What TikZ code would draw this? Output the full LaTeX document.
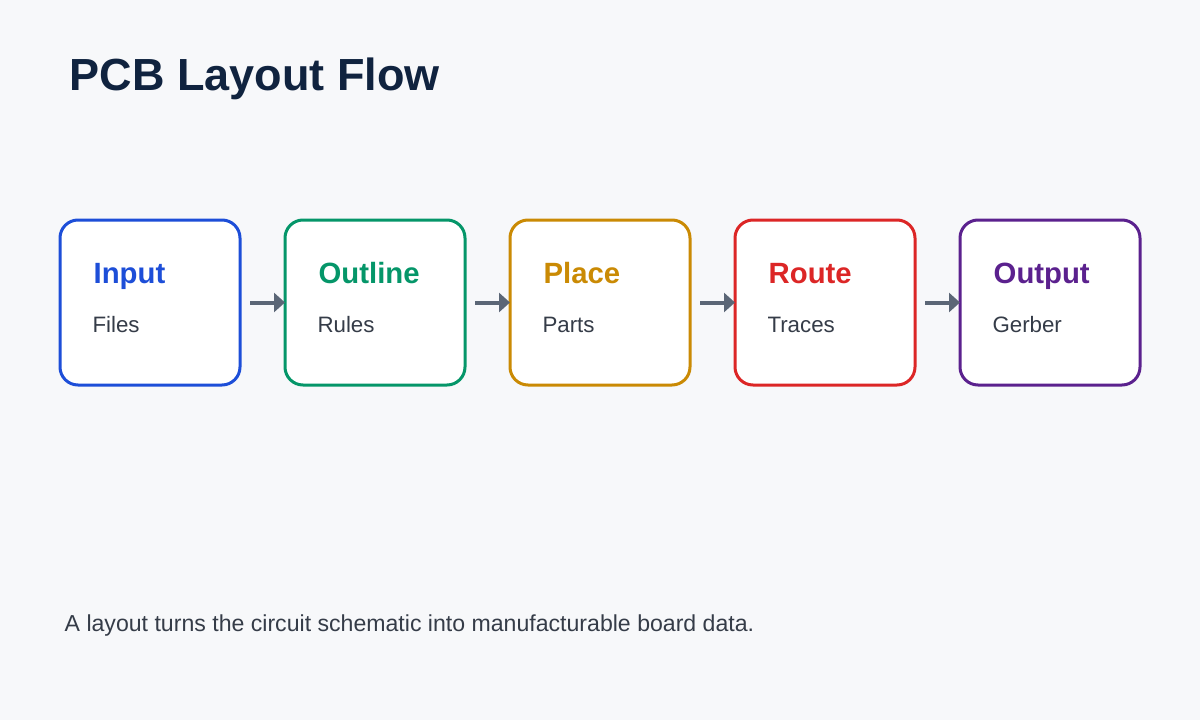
\documentclass[tikz,border=0pt]{standalone}
\usepackage{fontspec}
\setmainfont{Liberation Sans}
\usetikzlibrary{arrows.meta}
\definecolor{bgc}{HTML}{F7F8FA}
\definecolor{titlec}{HTML}{10233F}
\definecolor{textc}{HTML}{353C48}
\definecolor{arrowc}{HTML}{5B6676}
\definecolor{cin}{HTML}{1D4ED8}
\definecolor{cout}{HTML}{059669}
\definecolor{cplace}{HTML}{CA8A04}
\definecolor{croute}{HTML}{DC2626}
\definecolor{cgerb}{HTML}{5B218E}
\tikzset{
  stepbox/.style={draw, fill=white, line width=3pt, rounded corners=18pt,
    minimum width=180pt, minimum height=165pt, inner sep=0pt, outer sep=0pt},
  boxtitle/.style={anchor=base west, inner sep=0pt, font=\fontsize{29.3}{34}\selectfont\bfseries},
  boxsub/.style={anchor=base west, inner sep=0pt, text=textc, font=\fontsize{22.3}{26}\selectfont},
  flowarrow/.style={draw=arrowc, line width=4pt, -{Triangle[length=11pt,width=19pt]}},
}
\begin{document}
\begin{tikzpicture}[x=1pt,y=-1pt]
\fill[bgc] (0,0) rectangle (1200,720);
\useasboundingbox (0,0) rectangle (1200,720);
\node[anchor=base west, inner sep=0pt, text=titlec, font=\fontsize{45}{54}\selectfont\bfseries] (title) at (69.5,90) {PCB Layout Flow};
\foreach \i/\c/\t/\s in {1/cin/Input/Files, 2/cout/Outline/Rules, 3/cplace/Place/Parts, 4/croute/Route/Traces, 5/cgerb/Output/Gerber} {
  \node[stepbox, draw=\c] (b\i) at ({150+225*(\i-1)},302.5) {};
  \node[boxtitle, text=\c] (t\i) at ([xshift=33.5pt, yshift=-63pt]b\i.north west) {\t};
  \node[boxsub] (s\i) at ([xshift=32.3pt, yshift=-112.5pt]b\i.north west) {\s};
}
\foreach \i/\j in {1/2, 2/3, 3/4, 4/5} {
  \draw[flowarrow] ([xshift=10pt]b\i.east) -- (b\j.west);
}
\node[anchor=base west, inner sep=0pt, text=textc, font=\fontsize{23.1}{27}\selectfont] (foot) at (64.5,631.5) {A layout turns the circuit schematic into manufacturable board data.};
\end{tikzpicture}
\end{document}
